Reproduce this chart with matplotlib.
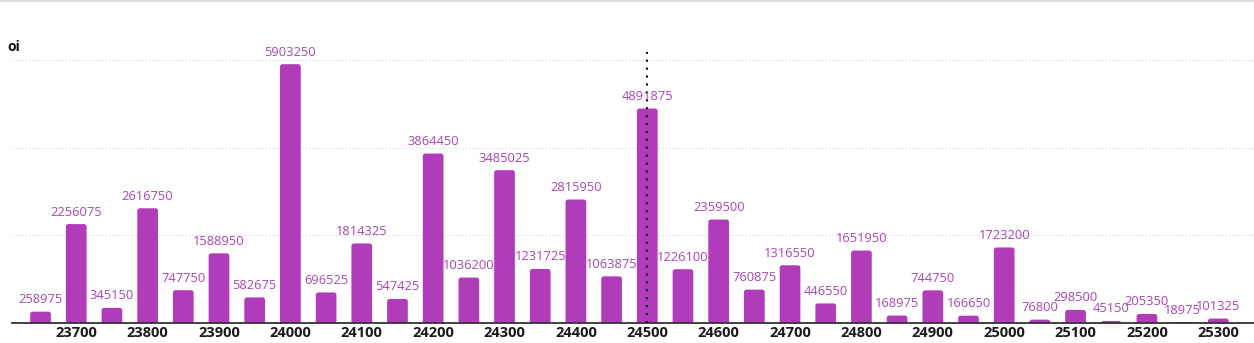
import matplotlib.pyplot as plt
from matplotlib.patches import FancyBboxPatch
from matplotlib.lines import Line2D

strikes = [23650, 23700, 23750, 23800, 23850, 23900, 23950, 24000, 24050, 24100,
           24150, 24200, 24250, 24300, 24350, 24400, 24450, 24500, 24550, 24600,
           24650, 24700, 24750, 24800, 24850, 24900, 24950, 25000, 25050, 25100,
           25150, 25200, 25250, 25300]
oi = [258975, 2256075, 345150, 2616750, 747750, 1588950, 582675, 5903250, 696525, 1814325,
      547425, 3864450, 1036200, 3485025, 1231725, 2815950, 1063875, 4891875, 1226100, 2359500,
      760875, 1316550, 446550, 1651950, 168975, 744750, 166650, 1723200, 76800, 298500,
      45150, 205350, 18975, 101325]
tick_strikes = list(range(23700, 25301, 100))
spot_strike = 24500

bar_color = '#b03cb9'
label_color = '#a845b3'

plt.rcParams['font.family'] = ['Open Sans', 'DejaVu Sans']

fig = plt.figure(figsize=(12.54, 3.43), dpi=100)
ax = fig.add_axes([12 / 1254, 20 / 343, 1 - 12 / 1254, 285 / 343])
ax.set_xlim(23610, 25350)
ax.set_ylim(0, 6.5e6)

# bars with rounded tops; bottom corners pushed below the axis and clipped
width = 29
radius = 3.5
aspect = (6.5e6 / 285) / (1740 / 1242)
for s, v in zip(strikes, oi):
    p = FancyBboxPatch((s - width / 2, -radius * aspect * 2), width, v + radius * aspect * 2,
                       boxstyle='round,pad=0,rounding_size=%f' % radius,
                       mutation_aspect=aspect, facecolor=bar_color, edgecolor='none',
                       zorder=2)
    ax.add_patch(p)
    ax.annotate(str(v), (s, v), xytext=(0, 4), textcoords='offset points',
                ha='center', va='bottom', color=label_color, fontsize=9.3, zorder=4)

# spot marker
ax.plot([spot_strike, spot_strike], [0, 6.17e6], color='black', linewidth=1.5,
        linestyle=(0, (1, 2.8)), zorder=3, clip_on=False)

for yv in [2e6, 4e6, 6e6]:
    ax.axhline(yv, color='#d4d4d4', linewidth=0.8, linestyle=(0, (1, 2)), zorder=1)

ax.set_xticks(tick_strikes)
ax.set_xticklabels([str(t) for t in tick_strikes], fontsize=10.5, fontweight='bold',
                   color='#1a1a1a')
ax.tick_params(axis='x', length=0, pad=2)
ax.set_yticks([])
for side in ['top', 'right', 'left']:
    ax.spines[side].set_visible(False)
ax.spines['bottom'].set_color('#333333')
ax.spines['bottom'].set_linewidth(1.3)

fig.text(7 / 1254, 1 - 47 / 343, 'oi', fontsize=10, fontweight='bold', color='#111111',
         ha='left', va='center')
fig.add_artist(Line2D([0, 1], [1 - 1 / 343, 1 - 1 / 343], color='#e0e0e0', linewidth=1.5,
                      transform=fig.transFigure))

fig.savefig('out.png', dpi=100, facecolor='white')
